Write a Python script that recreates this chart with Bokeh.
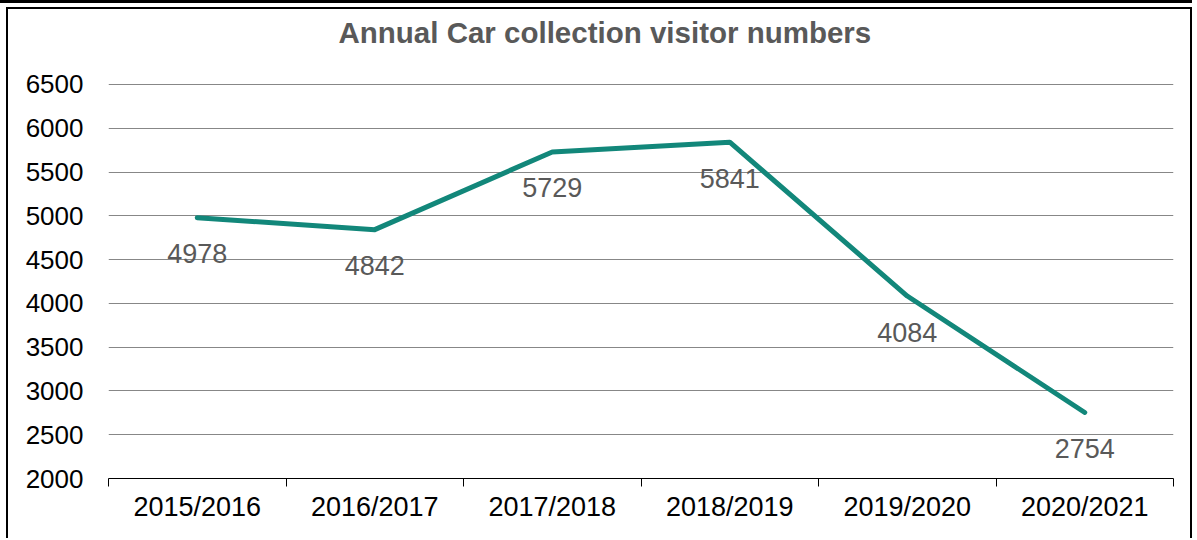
import numpy as np
from bokeh.plotting import figure
from bokeh.models import FixedTicker, Range1d, ColumnDataSource, Title
from bokeh.core.properties import value
from bokeh.embed import file_html
from bokeh.resources import INLINE

categories = ["2015/2016", "2016/2017", "2017/2018", "2018/2019", "2019/2020", "2020/2021"]
visitors = [4978, 4842, 5729, 5841, 4084, 2754]
y_ticks = [2000, 2500, 3000, 3500, 4000, 4500, 5000, 5500, 6000, 6500]

FONT = "Liberation Sans"
xpos = [i + 0.5 for i in range(len(categories))]

p = figure(width=1186, height=531, output_backend="svg", toolbar_location=None,
           x_range=Range1d(0, len(categories)), y_range=Range1d(y_ticks[0], y_ticks[-1] + 11),
           min_border_left=100, min_border_right=21, min_border_top=74, min_border_bottom=62,
           styles={"border": "2px solid black", "border-bottom": "none",
                   "margin-left": "6px", "margin-top": "7px",
                   "box-shadow": "-3px -1px 0 3px white, -3px -10px 0 3px black"})
p.outline_line_color = None
p.background_fill_color = "white"
p.border_fill_color = "white"

# spacer between title and plot area
p.add_layout(Title(text=" ", text_font=FONT, text_font_size="30px", standoff=0), "above")

p.title.text = "Annual Car collection visitor numbers"
p.title.text_font = FONT
p.title.text_font_size = "29.5px"
p.title.text_font_style = "bold"
p.title.text_color = "#595959"
p.title.align = "left"
p.title.offset = 230
p.title.standoff = 0

# x axis
xa = p.xaxis[0]
xa.ticker = FixedTicker(ticks=xpos, minor_ticks=list(range(len(categories) + 1)))
xa.major_label_overrides = {x: c for x, c in zip(xpos, categories)}
xa.major_tick_line_color = None
xa.major_tick_out = 0
xa.major_tick_in = 0
xa.minor_tick_line_color = "black"
xa.minor_tick_out = 8
xa.minor_tick_in = 0
xa.axis_line_color = "black"
xa.axis_line_width = 1
xa.major_label_text_font = FONT
xa.major_label_text_font_size = "27px"
xa.major_label_text_color = "#000000"
xa.major_label_standoff = 5

ya = p.yaxis[0]
ya.ticker = FixedTicker(ticks=y_ticks)
ya.axis_line_color = None
ya.major_tick_line_color = None
ya.minor_tick_line_color = None
ya.major_tick_out = 0
ya.major_tick_in = 0
ya.major_label_text_font = FONT
ya.major_label_text_font_size = "26px"
ya.major_label_text_color = "#000000"
ya.major_label_standoff = 25

p.xgrid.grid_line_color = None
p.ygrid.ticker = FixedTicker(ticks=y_ticks[1:])
p.ygrid.grid_line_color = "#878787"
p.ygrid.grid_line_width = 1

src = ColumnDataSource(dict(x=xpos, y=visitors, t=[str(v) for v in visitors]))
p.line("x", "y", source=src, line_color="#12877A", line_width=5,
       line_join="round", line_cap="round")
p.text("x", "y", text="t", source=src, y_offset=36, text_align="center",
       text_baseline="middle", text_font=value(FONT), text_font_size="27px",
       text_color="#595959")

open("out.html", "w").write(file_html(p, INLINE))
